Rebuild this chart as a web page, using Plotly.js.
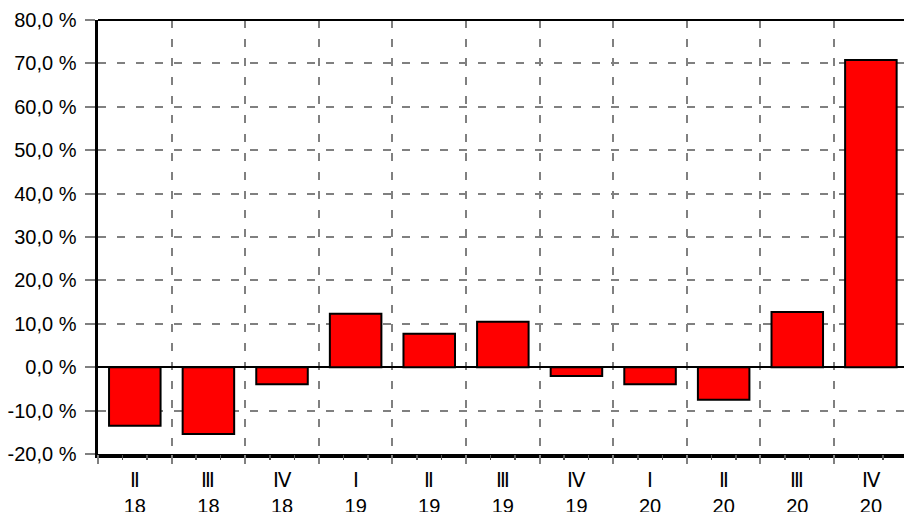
<!DOCTYPE html>
<html>
<head>
<meta charset="utf-8">
<script src="https://cdn.plot.ly/plotly-3.0.1.min.js"></script>
<style>html,body{margin:0;padding:0;background:#fff;}#chart{width:904px;height:512px;}</style>
</head>
<body>
<div id="chart"></div>
<script>
var quarters = ["Ⅱ","Ⅲ","Ⅳ","Ⅰ","Ⅱ","Ⅲ","Ⅳ","Ⅰ","Ⅱ","Ⅲ","Ⅳ"];
var years = ["18","18","18","19","19","19","19","20","20","20","20"];
var values = [-13.5, -15.4, -3.9, 12.3, 7.7, 10.5, -2.0, -3.9, -7.5, 12.7, 70.8];
var yTickVals = [-20, -10, 0, 10, 20, 30, 40, 50, 60, 70, 80];
var yTickLabels = ["-20,0 %","-10,0 %","0,0 %","10,0 %","20,0 %","30,0 %","40,0 %","50,0 %","60,0 %","70,0 %","80,0 %"];

var categories = quarters.map(function(q, i){ return q + "<br>" + years[i]; });
var xr = [-0.5, 10.45];

var traces = [{
  type: "bar",
  x: categories,
  y: values,
  xaxis: "x",
  yaxis: "y",
  marker: {color: "#ff0000", line: {color: "#000000", width: 2}},
  hoverinfo: "skip"
}, {
  type: "scatter",
  mode: "markers",
  x: [0],
  y: [0],
  xaxis: "x2",
  yaxis: "y",
  marker: {opacity: 0, size: 1},
  hoverinfo: "skip",
  showlegend: false
}];

var fnt = {family: "Liberation Sans, Arial, sans-serif", size: 20, color: "#000"};

var layout = {
  width: 904,
  height: 512,
  margin: {l: 98, r: 0, t: 20, b: 58},
  paper_bgcolor: "#fff",
  plot_bgcolor: "#fff",
  showlegend: false,
  bargap: 0.3,
  font: fnt,
  xaxis: {
    type: "category",
    range: xr,
    tickson: "boundaries",
    ticks: "",
    showgrid: true,
    gridcolor: "#808080",
    gridwidth: 2,
    griddash: "8px,11px",
    showline: true,
    linecolor: "#000",
    linewidth: 3.5,
    tickfont: fnt,
    ticklabelstandoff: 5,
    zeroline: false,
    fixedrange: true
  },
  xaxis2: {
    overlaying: "x",
    anchor: "y",
    side: "bottom",
    range: xr,
    tick0: -0.5,
    dtick: 1,
    ticks: "outside",
    ticklen: 9,
    tickwidth: 2,
    tickcolor: "#808080",
    showticklabels: false,
    showgrid: false,
    showline: false,
    zeroline: false,
    minor: {dtick: 1/3, tick0: -0.5, ticks: "outside", ticklen: 5, tickwidth: 1.5, tickcolor: "#555", showgrid: false}
  },
  yaxis: {
    range: [-20, 80],
    tickvals: yTickVals,
    ticktext: yTickLabels,
    ticks: "outside",
    ticklen: 10,
    tickwidth: 2,
    tickcolor: "#808080",
    showgrid: true,
    gridcolor: "#808080",
    gridwidth: 2,
    griddash: "8px,11px",
    showline: true,
    linecolor: "#000",
    linewidth: 3.5,
    zeroline: true,
    zerolinecolor: "#000",
    zerolinewidth: 1.5,
    tickfont: fnt,
    ticklabelstandoff: 4,
    fixedrange: true
  },
  shapes: [{
    type: "line", xref: "paper", yref: "paper",
    x0: 0, x1: 1, y0: 1, y1: 1,
    line: {color: "#000", width: 2},
    layer: "above"
  }]
};

Plotly.newPlot("chart", traces, layout, {displayModeBar: false, staticPlot: true});
</script>
</body>
</html>
